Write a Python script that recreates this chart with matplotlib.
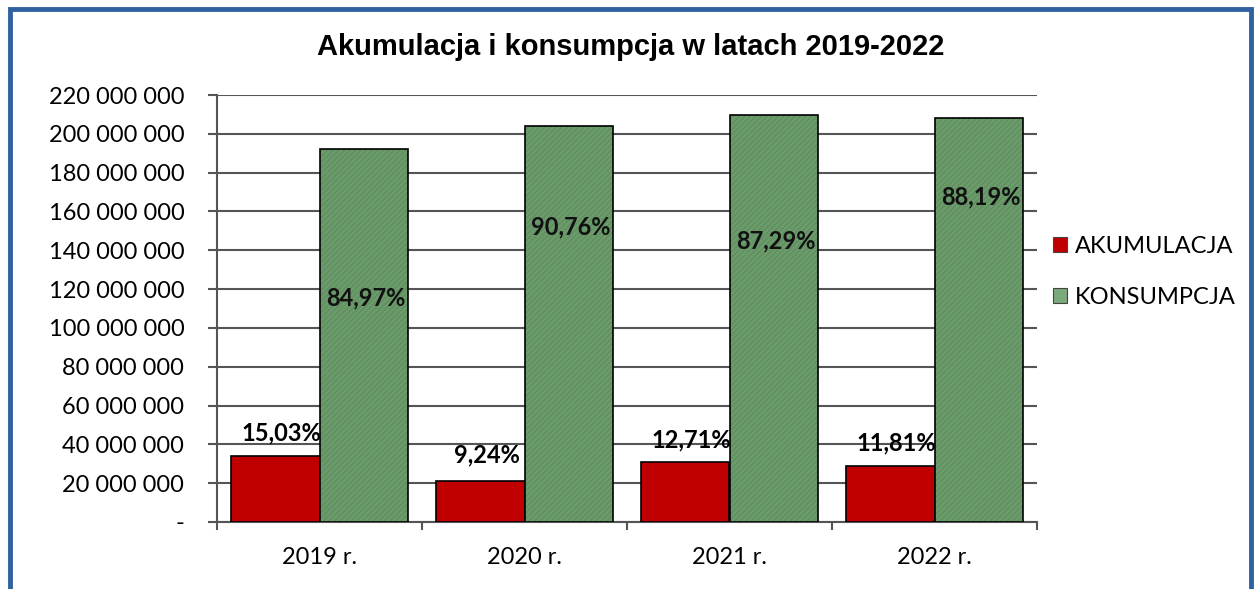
import numpy as np
import matplotlib.pyplot as plt
from matplotlib.patches import Rectangle, Patch
from matplotlib.ticker import FuncFormatter, MultipleLocator

years = ['2019 r.', '2020 r.', '2021 r.', '2022 r.']
akumulacja = [34.2e6, 21.3e6, 30.9e6, 28.9e6]
konsumpcja = [192.3e6, 204.1e6, 209.8e6, 208.1e6]
akum_pct = ['15,03%', '9,24%', '12,71%', '11,81%']
kons_pct = ['84,97%', '90,76%', '87,29%', '88,19%']

# where Excel put the labels (data units)
akum_lab_y = [45.9e6, 34.5e6, 42.3e6, 40.7e6]
kons_lab_y = [115.5e6, 152e6, 145e6, 167.5e6]

RED = '#c00000'
GREEN = '#6b9b6b'

plt.rcParams['font.family'] = ['Lato', 'DejaVu Sans']
plt.rcParams['hatch.linewidth'] = 0.6

fig = plt.figure(figsize=(12.54, 5.89), dpi=100)
ax = fig.add_axes([217 / 1254, 1 - 522 / 589, 820 / 1254, 427 / 589])

x = np.arange(len(years))
w = 0.43
ax.bar(x - w / 2, akumulacja, w, color=RED, edgecolor='black', linewidth=1.2, zorder=3)
ax.bar(x + w / 2, konsumpcja, w, color=GREEN, edgecolor='#5a885a', hatch='//////',
       linewidth=0, zorder=3)
ax.bar(x + w / 2, konsumpcja, w, fill=False, edgecolor='black', linewidth=1.2, zorder=4)

for i in range(len(years)):
    ax.text(x[i] - w / 2 + 0.03, akum_lab_y[i], akum_pct[i], ha='center', va='center',
            fontsize=17, fontweight='bold', zorder=5)
    ax.text(x[i] + w / 2 + 0.01, kons_lab_y[i], kons_pct[i], ha='center', va='center',
            fontsize=17, fontweight='bold', color='#111111', zorder=5)

ax.set_xlim(-0.5, len(years) - 0.5)
ax.set_ylim(0, 220e6)
ax.yaxis.set_major_locator(MultipleLocator(20e6))
ax.yaxis.set_major_formatter(FuncFormatter(
    lambda v, p: '-' if v == 0 else f'{int(v):,}'.replace(',', ' ')))
ax.grid(axis='y', color='#555555', linewidth=1.5, zorder=0)

ax.set_xticks(x)
ax.set_xticklabels(years)
ax.set_xticks(np.arange(-0.5, len(years)), minor=True)
ax.tick_params(axis='x', which='major', length=0, pad=18, labelsize=17)
ax.tick_params(axis='x', which='minor', length=6, width=1.5, color='#555555', direction='out')
ax.tick_params(axis='y', length=6.5, width=1.5, color='#555555', pad=17, labelsize=17)

for s in ['top', 'right']:
    ax.spines[s].set_visible(False)
for s in ['left', 'bottom']:
    ax.spines[s].set_color('#555555')
    ax.spines[s].set_linewidth(1.5)

fig.text(631 / 1254, 1 - 47 / 589, 'Akumulacja i konsumpcja w latach 2019-2022',
         ha='center', va='center', fontsize=21, fontweight='bold',
         family='Liberation Sans')

handles = [Patch(facecolor=RED, edgecolor='#444444', linewidth=0.8),
           Patch(facecolor='#7aaa7a', edgecolor='#444444', linewidth=0.8)]
fig.legend(handles, ['AKUMULACJA', 'KONSUMPCJA'], loc='center left',
           bbox_to_anchor=(1032 / 1254, 1 - 272 / 589), frameon=False, fontsize=17,
           handlelength=0.6, handleheight=0.6, handletextpad=0.3, labelspacing=1.25)

# blue frame of the original picture
fig.patches.append(Rectangle((10 / 1254, -0.05), 1241 / 1254, 1.05 - 9 / 589,
                             transform=fig.transFigure, fill=False,
                             edgecolor='#2f62a0', linewidth=3.5))

fig.savefig('out.png', dpi=100)
